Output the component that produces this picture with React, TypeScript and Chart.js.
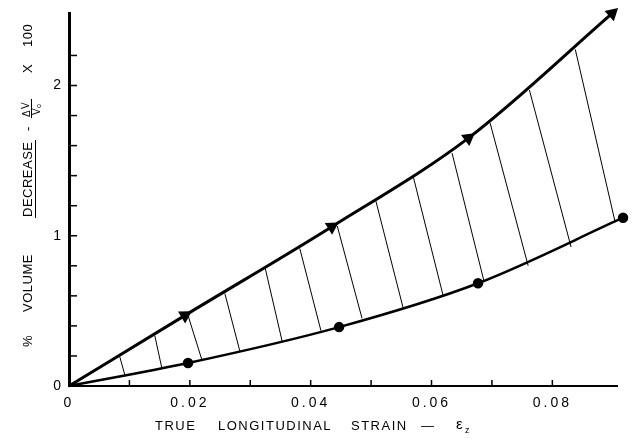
import { useEffect, useRef } from 'react';
import { Chart, registerables } from 'chart.js';

Chart.register(...registerables);

// Upper curve (triangles)
const upperStrain = [0, 0.0192, 0.0435, 0.0661, 0.0899];
const upperVolume = [0, 0.47, 1.06, 1.65, 2.48];
const upperArrowAngle = [0, 59, 58, 53, 48];
// Lower curve (dots)
const lowerStrain = [0, 0.0197, 0.0447, 0.0677, 0.0917];
const lowerVolume = [0, 0.153, 0.392, 0.684, 1.12];
// Hatch lines between the curves
const hatchTopStrain = [0.0084, 0.0142, 0.0197, 0.0258, 0.0325, 0.0382, 0.0444, 0.0508, 0.057, 0.0634, 0.0697, 0.0762, 0.0838];
const hatchTopVolume = [0.195, 0.335, 0.47, 0.615, 0.78, 0.915, 1.065, 1.23, 1.39, 1.55, 1.75, 1.97, 2.24];
const hatchBottomStrain = [0.0093, 0.0154, 0.022, 0.0283, 0.0353, 0.0417, 0.0485, 0.0553, 0.0619, 0.0687, 0.076, 0.0831, 0.0904];
const hatchBottomVolume = [0.065, 0.113, 0.173, 0.228, 0.294, 0.368, 0.45, 0.52, 0.605, 0.695, 0.8, 0.925, 1.09];
// Axes
const xTickLabels = ['0', '0.02', '0.04', '0.06', '0.08'];
const yTickLabels = ['0', '1', '2'];
const X_MAX = 0.0907;
const Y_MAX = 2.48;
const X_STEP = 0.01;
const Y_STEP = 0.2;

const FONT = '"Liberation Sans", Arial, sans-serif';

const isMultiple = (v: number, step: number) => Math.abs(v / step - Math.round(v / step)) < 1e-6;

const inwardTicks = {
  id: 'inwardTicks',
  afterDatasetsDraw(chart: any) {
    const { ctx, chartArea, scales } = chart;
    ctx.save();
    ctx.strokeStyle = '#000';
    ctx.lineWidth = 1.5;
    for (const t of scales.x.ticks) {
      if (!isMultiple(t.value, X_STEP) || t.value === 0) continue;
      const px = scales.x.getPixelForValue(t.value);
      ctx.beginPath();
      ctx.moveTo(px, chartArea.bottom);
      ctx.lineTo(px, chartArea.bottom - 6);
      ctx.stroke();
    }
    for (const t of scales.y.ticks) {
      if (!isMultiple(t.value, Y_STEP) || t.value === 0) continue;
      const py = scales.y.getPixelForValue(t.value);
      ctx.beginPath();
      ctx.moveTo(chartArea.left, py);
      ctx.lineTo(chartArea.left + 8, py);
      ctx.stroke();
    }
    ctx.restore();
  },
};

const letterSpacingPlugin = {
  id: 'letterSpacing',
  beforeDraw(chart: any) {
    chart.ctx.letterSpacing = '3px';
  },
};

const titles = {
  id: 'titles',
  afterDraw(chart: any) {
    const { ctx } = chart;
    ctx.save();
    ctx.fillStyle = '#000';
    ctx.strokeStyle = '#000';
    ctx.letterSpacing = '1.5px';
    ctx.font = `13px ${FONT}`;
    ctx.textBaseline = 'middle';
    ctx.textAlign = 'left';
    // X axis title
    const ty = 426;
    ctx.fillText('TRUE', 155, ty);
    ctx.fillText('LONGITUDINAL', 218, ty);
    ctx.fillText('STRAIN', 351, ty);
    ctx.letterSpacing = '0px';
    ctx.fillText('\u2014', 421, ty);
    ctx.font = `15px ${FONT}`;
    ctx.fillText('\u03b5', 456, ty - 1);
    ctx.font = `9px ${FONT}`;
    ctx.fillText('z', 465, ty + 5);

    // Y axis title (rotated)
    ctx.translate(28, 0);
    ctx.rotate(-Math.PI / 2);
    ctx.font = `13px ${FONT}`;
    ctx.letterSpacing = '0.5px';
    ctx.fillText('%', -347, 0);
    ctx.fillText('VOLUME', -312, 0);
    ctx.fillText('DECREASE', -217, 0);
    ctx.lineWidth = 1;
    ctx.beginPath();
    ctx.moveTo(-218, 7.5);
    ctx.lineTo(-140, 7.5);
    ctx.stroke();
    ctx.letterSpacing = '0px';
    ctx.fillText('-', -131, 0);
    ctx.font = `10px ${FONT}`;
    ctx.fillText('\u0394', -117, -1);
    ctx.fillText('V', -109, -2);
    ctx.beginPath();
    ctx.moveTo(-118, 3.5);
    ctx.lineTo(-99, 3.5);
    ctx.stroke();
    ctx.fillText('V', -115, 9);
    ctx.font = `7px ${FONT}`;
    ctx.fillText('o', -108, 11);
    ctx.font = `13px ${FONT}`;
    ctx.letterSpacing = '0.5px';
    ctx.fillText('X', -73, 0);
    ctx.fillText('100', -47, 0);
    ctx.restore();
  },
};

export default function App() {
  const ref = useRef<HTMLCanvasElement | null>(null);
  useEffect(() => {
    if (!ref.current) return;
    const hatchSets = hatchTopStrain.map((xt, i) => ({
      data: [
        { x: xt, y: hatchTopVolume[i] },
        { x: hatchBottomStrain[i], y: hatchBottomVolume[i] },
      ],
      borderColor: '#000',
      borderWidth: 1,
      pointRadius: 0,
      tension: 0,
      clip: false as any,
    }));
    const chart = new Chart(ref.current, {
      type: 'line',
      data: {
        datasets: [
          ...hatchSets,
          {
            data: upperStrain.map((x, i) => ({ x, y: upperVolume[i] })),
            borderColor: '#000',
            backgroundColor: '#000',
            borderWidth: 3,
            cubicInterpolationMode: 'monotone',
            pointStyle: 'triangle',
            pointRadius: upperStrain.map((_, i) => (i === 0 ? 0 : 5)),
            pointRotation: upperArrowAngle,
            clip: false as any,
          },
          {
            data: lowerStrain.map((x, i) => ({ x, y: lowerVolume[i] })),
            borderColor: '#000',
            backgroundColor: '#000',
            borderWidth: 2.5,
            cubicInterpolationMode: 'monotone',
            pointStyle: 'circle',
            pointRadius: lowerStrain.map((_, i) => (i === 0 ? 0 : 4)),
            clip: false as any,
          },
        ] as any,
      },
      options: {
        animation: false,
        responsive: true,
        maintainAspectRatio: false,
        layout: { padding: { left: 0, right: 18, top: 10, bottom: 0 } },
        plugins: { legend: { display: false }, tooltip: { enabled: false }, title: { display: false } },
        scales: {
          x: {
            type: 'linear',
            min: 0,
            max: X_MAX,
            afterFit: (s: any) => { s.height = 53; },
            grid: { display: true, drawOnChartArea: false, drawTicks: false },
            border: { display: true, color: '#000', width: 2 },
            ticks: {
              stepSize: X_STEP,
              autoSkip: false,
              maxRotation: 0,
              padding: 9,
              color: '#000',
              font: { family: FONT, size: 14 },
              callback: (v: any) => {
                const n = Math.round(v / X_STEP);
                if (!isMultiple(v, X_STEP) || n % 2 !== 0) return '';
                return xTickLabels[n / 2] ?? '';
              },
            },
          },
          y: {
            type: 'linear',
            min: 0,
            max: Y_MAX,
            afterFit: (s: any) => { s.width = 69; },
            grid: { display: true, drawOnChartArea: false, drawTicks: false },
            border: { display: true, color: '#000', width: 3 },
            ticks: {
              stepSize: Y_STEP,
              autoSkip: false,
              padding: 5,
              color: '#000',
              font: { family: FONT, size: 14 },
              callback: (v: any) => {
                if (!isMultiple(v, 1)) return '';
                return yTickLabels[Math.round(v)] ?? '';
              },
            },
          },
        },
      },
      plugins: [letterSpacingPlugin, inwardTicks, titles],
    });
    return () => chart.destroy();
  }, []);
  return (
    <div style={{ position: 'fixed', left: 0, top: 0, width: 635, height: 439, background: '#fff' }}>
      <canvas ref={ref} />
    </div>
  );
}
